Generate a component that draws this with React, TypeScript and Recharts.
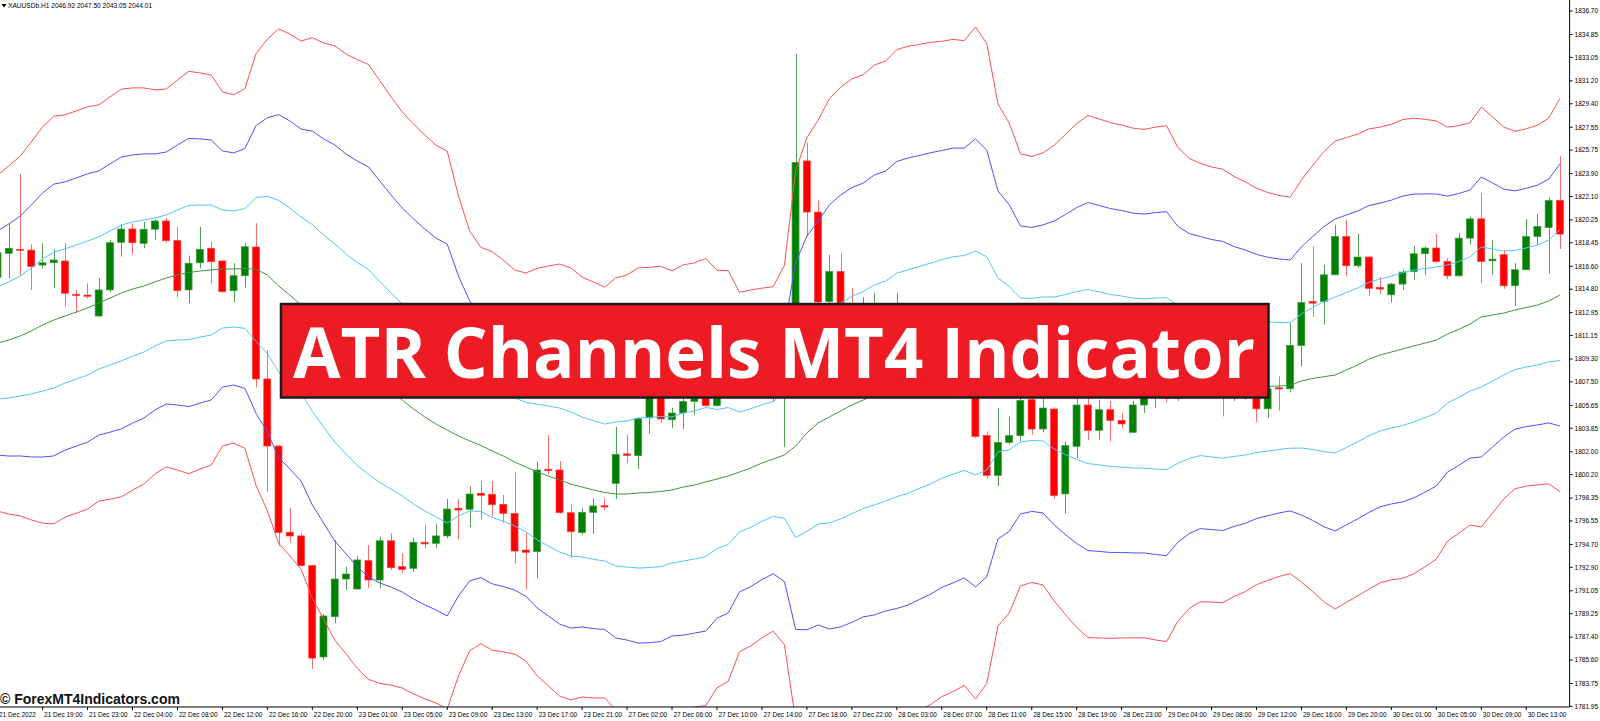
import { Bar, ComposedChart, Line, XAxis, YAxis } from "recharts";

// XAUUSDb H1, 21 Dec 15:00 .. 30 Dec 16:00 (140 bars)
const opens = [
  1815.74, 1817.62, 1817.94, 1817.88, 1816.7, 1816.88, 1817.02, 1814.4, 1814.34, 1812.69,
  1814.74, 1818.49, 1819.54, 1818.41, 1819.52, 1820.17, 1818.62, 1814.74, 1816.88, 1818.02,
  1817.02, 1814.68, 1815.86, 1818.12, 1807.73, 1802.45, 1795.66, 1795.37, 1793.03, 1785.84,
  1789.01, 1791.98, 1791.19, 1793.42, 1791.9, 1794.99, 1792.95, 1792.82, 1794.87, 1794.79,
  1795.37, 1797.55, 1797.47, 1798.73, 1798.65, 1797.86, 1797.15, 1794.26, 1794.13, 1800.62,
  1800.56, 1797.2, 1795.63, 1797.23, 1797.75, 1799.51, 1801.83, 1801.69, 1804.66, 1806.41,
  1804.52, 1805.05, 1805.96, 1806.4, 1805.63, 1806.5, 1807.3, 1807.0, 1807.6, 1808.0,
  1808.3, 1808.6, 1824.9, 1820.87, 1813.83, 1816.19, 1813.4, 1812.3, 1813.0, 1813.5,
  1812.1, 1813.2, 1811.3, 1810.1, 1810.7, 1809.4, 1809.0, 1808.8, 1803.29, 1800.14,
  1802.74, 1803.27, 1806.1, 1803.79, 1805.36, 1798.68, 1802.43, 1805.68, 1803.68, 1805.31,
  1804.47, 1803.53, 1805.68, 1806.4, 1806.8, 1806.2, 1807.0, 1806.6, 1807.2, 1806.8,
  1806.5, 1806.9, 1806.3, 1805.38, 1807.04, 1806.96, 1810.37, 1813.83, 1813.83, 1815.93,
  1818.95, 1816.64, 1817.33, 1814.94, 1814.36, 1815.2, 1816.19, 1817.59, 1818.04, 1816.98,
  1815.85, 1818.82, 1820.34, 1817.03, 1817.51, 1815.07, 1816.33, 1818.95, 1819.65, 1821.78,
];

const highs = [
  1818.0, 1819.93, 1823.87, 1818.33, 1818.41, 1817.94, 1818.41, 1814.74, 1815.26, 1815.66,
  1818.67, 1819.91, 1819.99, 1820.09, 1820.3, 1820.43, 1819.72, 1817.44, 1819.72, 1818.54,
  1817.1, 1816.84, 1818.41, 1819.99, 1810.01, 1802.5, 1797.55, 1795.58, 1793.1, 1789.22,
  1795.05, 1792.95, 1793.79, 1794.66, 1795.31, 1795.58, 1794.0, 1795.23, 1796.23, 1796.29,
  1798.28, 1798.26, 1799.3, 1799.7, 1799.7, 1798.59, 1800.35, 1795.63, 1801.21, 1803.32,
  1801.27, 1797.81, 1797.55, 1798.33, 1798.33, 1803.97, 1803.35, 1804.7, 1807.2, 1807.0,
  1805.44, 1806.5, 1806.9, 1806.8, 1807.0, 1807.6, 1808.1, 1807.9, 1808.4, 1808.8,
  1809.6, 1833.32, 1826.34, 1821.78, 1817.51, 1817.64, 1814.89, 1814.18, 1814.49, 1813.6,
  1814.49, 1813.5, 1812.0, 1811.2, 1811.4, 1810.3, 1809.8, 1810.2, 1803.6, 1805.44,
  1804.78, 1806.5, 1806.6, 1806.2, 1805.49, 1802.82, 1806.23, 1806.2, 1806.1, 1806.0,
  1805.05, 1806.0, 1806.9, 1807.3, 1807.5, 1807.4, 1807.8, 1807.6, 1807.9, 1807.3,
  1807.4, 1807.5, 1806.9, 1807.28, 1807.93, 1812.13, 1816.85, 1818.16, 1816.72, 1819.87,
  1820.26, 1819.16, 1817.38, 1815.75, 1815.28, 1816.33, 1818.22, 1818.16, 1819.14, 1817.25,
  1819.22, 1820.52, 1822.36, 1818.69, 1817.9, 1816.85, 1820.32, 1820.73, 1822.02, 1825.3,
];

const lows = [
  1815.3, 1815.66, 1815.92, 1814.74, 1816.44, 1814.87, 1813.42, 1812.9, 1814.08, 1812.6,
  1814.55, 1817.36, 1817.55, 1818.02, 1818.67, 1818.46, 1814.16, 1813.69, 1816.44, 1815.26,
  1814.52, 1813.77, 1814.92, 1807.07, 1798.85, 1794.58, 1794.84, 1792.95, 1784.9, 1785.6,
  1788.49, 1791.11, 1791.15, 1791.25, 1791.25, 1792.69, 1792.43, 1792.55, 1794.4, 1794.4,
  1795.18, 1795.1, 1796.05, 1796.68, 1796.89, 1796.41, 1793.21, 1791.17, 1792.03, 1800.22,
  1797.15, 1793.61, 1795.45, 1795.52, 1797.41, 1798.28, 1801.12, 1800.63, 1803.4, 1804.27,
  1803.87, 1803.79, 1804.92, 1805.55, 1805.55, 1806.3, 1806.9, 1806.6, 1807.2, 1805.96,
  1802.37, 1808.2, 1818.95, 1812.79, 1812.5, 1812.5, 1811.8, 1811.5, 1812.2, 1811.6,
  1811.4, 1810.9, 1809.6, 1809.2, 1808.9, 1808.4, 1808.1, 1803.08, 1799.86, 1799.28,
  1802.56, 1802.82, 1803.35, 1803.53, 1798.29, 1797.1, 1801.51, 1802.9, 1802.95, 1802.82,
  1803.87, 1803.48, 1805.05, 1805.44, 1805.88, 1806.0, 1806.4, 1806.2, 1806.3, 1804.78,
  1806.0, 1806.1, 1804.35, 1804.66, 1805.23, 1806.67, 1808.72, 1812.61, 1812.0, 1815.9,
  1815.8, 1816.46, 1814.28, 1814.42, 1813.75, 1814.75, 1815.54, 1815.93, 1816.85, 1815.62,
  1815.8, 1818.3, 1815.28, 1815.93, 1814.83, 1813.49, 1816.3, 1818.3, 1816.01, 1817.96,
];

const closes = [
  1817.67, 1818.02, 1817.86, 1816.57, 1816.88, 1817.1, 1814.48, 1814.32, 1814.24, 1814.74,
  1818.46, 1819.54, 1818.46, 1819.52, 1820.17, 1818.62, 1814.68, 1816.84, 1817.94, 1816.96,
  1814.6, 1815.86, 1818.14, 1807.73, 1802.45, 1795.63, 1795.37, 1793.03, 1785.75, 1789.07,
  1791.98, 1792.37, 1793.48, 1791.9, 1794.99, 1792.87, 1792.74, 1794.87, 1794.74, 1795.37,
  1797.49, 1797.41, 1798.67, 1798.57, 1797.83, 1797.15, 1794.18, 1794.08, 1800.56, 1800.51,
  1797.2, 1795.7, 1797.23, 1797.73, 1797.65, 1801.8, 1801.72, 1804.6, 1806.73, 1804.58,
  1805.05, 1805.96, 1806.33, 1805.63, 1806.5, 1807.3, 1807.0, 1807.6, 1808.0, 1808.3,
  1808.6, 1824.77, 1820.87, 1813.79, 1816.19, 1813.4, 1812.3, 1813.1, 1813.5, 1812.1,
  1813.2, 1811.3, 1810.1, 1810.7, 1809.4, 1809.0, 1808.8, 1803.2, 1800.14, 1802.74,
  1803.27, 1806.04, 1803.79, 1805.44, 1798.55, 1802.48, 1805.68, 1803.68, 1805.31, 1804.47,
  1804.19, 1805.68, 1806.4, 1806.8, 1806.2, 1807.0, 1806.6, 1807.2, 1806.8, 1806.5,
  1806.9, 1806.3, 1805.38, 1806.96, 1806.94, 1810.37, 1813.75, 1813.7, 1815.93, 1818.95,
  1816.64, 1817.33, 1814.86, 1814.81, 1815.2, 1816.15, 1817.59, 1818.04, 1816.98, 1815.85,
  1818.82, 1820.34, 1816.98, 1817.17, 1815.07, 1816.33, 1818.95, 1819.73, 1821.78, 1819.14,
];

// green middle line of the channel
const midLine = [
  1810.56, 1810.8, 1811.11, 1811.51, 1811.98, 1812.37, 1812.69, 1813.0, 1813.32, 1813.71,
  1814.1, 1814.5, 1814.81, 1815.05, 1815.37, 1815.68, 1815.92, 1816.11, 1816.23, 1816.31,
  1816.39, 1816.39, 1816.43, 1816.35, 1815.92, 1815.05, 1814.34, 1813.55, 1812.53, 1811.51,
  1810.56, 1809.7, 1808.91, 1808.28, 1807.49, 1806.78, 1806.07, 1805.37, 1804.74, 1804.18,
  1803.71, 1803.24, 1802.85, 1802.49, 1802.06, 1801.66, 1801.19, 1800.8, 1800.4, 1800.09,
  1799.77, 1799.46, 1799.22, 1798.99, 1798.79, 1798.67, 1798.67, 1798.75, 1798.79, 1798.87,
  1798.99, 1799.22, 1799.38, 1799.62, 1799.85, 1800.09, 1800.4, 1800.72, 1801.11, 1801.43,
  1801.74, 1802.45, 1803.48, 1804.26, 1804.74, 1805.21, 1805.68, 1806.07, 1806.47, 1806.78,
  1807.26, 1807.53, 1807.85, 1808.16, 1808.52, 1808.79, 1808.99, 1808.99, 1808.95, 1808.83,
  1808.59, 1808.44, 1808.48, 1808.52, 1808.2, 1808.08, 1808.0, 1807.92, 1807.77, 1807.61,
  1807.53, 1807.41, 1807.37, 1807.37, 1807.36, 1807.31, 1807.37, 1807.45, 1807.29, 1807.18,
  1807.14, 1807.12, 1807.14, 1807.14, 1807.18, 1807.22, 1807.57, 1807.77, 1807.91, 1808.04,
  1808.44, 1808.83, 1809.3, 1809.62, 1809.85, 1810.09, 1810.33, 1810.56, 1810.8, 1811.27,
  1811.63, 1812.06, 1812.61, 1812.77, 1812.92, 1813.16, 1813.36, 1813.55, 1813.87, 1814.34,
];

// distance between neighbouring channel lines (ATR step)
const atrStep = [
  4.41, 4.57, 4.72, 4.96, 5.2, 5.35, 5.28, 5.28, 5.28, 5.2,
  5.28, 5.35, 5.28, 5.2, 5.04, 4.96, 5.12, 5.28, 5.2, 5.12,
  4.65, 4.57, 4.72, 5.67, 6.19, 6.75, 6.85, 6.93, 7.36, 7.56,
  7.8, 7.87, 7.99, 8.07, 7.91, 7.72, 7.56, 7.48, 7.4, 7.32,
  7.32, 6.3, 5.51, 5.2, 5.23, 5.14, 5.04, 5.09, 5.35, 5.51,
  5.67, 5.67, 5.51, 5.46, 5.39, 5.67, 5.75, 5.91, 5.91, 5.91,
  5.75, 5.83, 5.83, 5.87, 5.48, 5.39, 4.72, 4.67, 4.59, 4.52,
  4.98, 7.22, 7.75, 7.95, 8.35, 8.5, 8.56, 8.54, 8.66, 8.66,
  8.8, 8.8, 8.74, 8.69, 8.6, 8.56, 8.46, 8.82, 8.4, 6.85,
  6.43, 5.67, 5.59, 5.67, 5.98, 6.3, 6.61, 6.85, 6.81, 6.77,
  6.73, 6.69, 6.67, 6.73, 6.77, 6.22, 5.91, 5.75, 5.71, 5.69,
  5.51, 5.38, 5.2, 5.09, 5.0, 4.94, 5.28, 5.59, 5.91, 6.14,
  6.1, 6.06, 6.04, 5.98, 5.98, 6.02, 5.98, 5.87, 5.75, 5.43,
  5.35, 5.28, 5.51, 5.2, 4.88, 4.69, 4.69, 4.72, 4.8, 5.16,
];

const timeLabels = [
  "21 Dec 2022", "21 Dec 19:00", "21 Dec 23:00", "22 Dec 04:00", "22 Dec 08:00",
  "22 Dec 12:00", "22 Dec 16:00", "22 Dec 20:00", "23 Dec 01:00", "23 Dec 05:00",
  "23 Dec 09:00", "23 Dec 13:00", "23 Dec 17:00", "23 Dec 21:00", "27 Dec 02:00",
  "27 Dec 06:00", "27 Dec 10:00", "27 Dec 14:00", "27 Dec 18:00", "27 Dec 22:00",
  "28 Dec 03:00", "28 Dec 07:00", "28 Dec 11:00", "28 Dec 15:00", "28 Dec 19:00",
  "28 Dec 23:00", "29 Dec 04:00", "29 Dec 08:00", "29 Dec 12:00", "29 Dec 16:00",
  "29 Dec 20:00", "30 Dec 01:00", "30 Dec 05:00", "30 Dec 09:00", "30 Dec 13:00",
];

const priceTicks = [
  1836.7, 1834.85, 1833.05, 1831.2, 1829.4, 1827.55, 1825.75, 1823.9, 1822.1, 1820.25,
  1818.45, 1816.6, 1814.8, 1812.95, 1811.15, 1809.3, 1807.5, 1805.65, 1803.85, 1802.0,
  1800.2, 1798.35, 1796.55, 1794.7, 1792.9, 1791.05, 1789.25, 1787.4, 1785.6, 1783.75,
  1781.95,
];

const SHIFT = 7.62; // first bar sits half outside the left edge
const PLOT_W = 1577.62;
const AXIS_W = 40;
const PLOT_H = 707;
const FONT = "'Liberation Sans', Arial, sans-serif";

const data = opens.map((o, i) => ({
  i,
  o,
  h: highs[i],
  l: lows[i],
  c: closes[i],
  range: [lows[i], highs[i]],
  up3: midLine[i] + 3 * atrStep[i],
  up2: midLine[i] + 2 * atrStep[i],
  up1: midLine[i] + atrStep[i],
  mid: midLine[i],
  dn1: midLine[i] - atrStep[i],
  dn2: midLine[i] - 2 * atrStep[i],
  dn3: midLine[i] - 3 * atrStep[i],
}));

function Candle(props: any) {
  const { x, y, width, height, payload } = props;
  if (x == null || !payload) return null;
  const top = Math.min(y, y + height);
  const h = Math.abs(height);
  const span = payload.h - payload.l;
  const k = span > 0 ? h / span : 0;
  const yo = top + (payload.h - payload.o) * k;
  const yc = top + (payload.h - payload.c) * k;
  const up = payload.c >= payload.o;
  const cx = Math.round(x + width / 2) + 0.5;
  const bTop = Math.min(yo, yc);
  const bH = Math.max(1.2, Math.abs(yc - yo));
  return (
    <g>
      <line x1={cx} x2={cx} y1={top} y2={top + h} stroke={up ? "#4f9f4f" : "#ff6a6a"} strokeWidth={1} />
      <rect
        x={x}
        y={bTop}
        width={width}
        height={bH}
        fill={up ? "#008000" : "#ff0000"}
        stroke={up ? "#3f993f" : "#ff3c3c"}
        strokeWidth={0.7}
      />
    </g>
  );
}

function TimeTick(props: any) {
  const { x, payload } = props;
  const label = timeLabels[Math.round(payload.value / 4)];
  if (!label) return null;
  return (
    <g>
      <line x1={x} x2={x} y1={PLOT_H} y2={PLOT_H + 3} stroke="#000" />
      <text x={x + 1.5} y={PLOT_H + 10} fontSize={6.5} fontFamily={FONT} fill="#000" textAnchor="start">
        {label}
      </text>
    </g>
  );
}

function PriceTick(props: any) {
  const { y, payload } = props;
  return (
    <g>
      <line x1={PLOT_W} x2={PLOT_W + 3} y1={y} y2={y} stroke="#000" />
      <text x={PLOT_W + 5} y={y + 2.3} fontSize={6.5} fontFamily={FONT} fill="#000" textAnchor="start">
        {payload.value.toFixed(2)}
      </text>
    </g>
  );
}

const lineProps = {
  type: "linear" as const,
  dot: false,
  activeDot: false,
  isAnimationActive: false,
  strokeWidth: 1,
};

export default function App() {
  return (
    <div
      style={{
        position: "absolute",
        left: 0,
        top: 0,
        width: 1600,
        height: 721,
        overflow: "hidden",
        background: "#fff",
      }}
    >
      <div style={{ position: "absolute", left: -SHIFT, top: 0 }}>
        <ComposedChart
          width={PLOT_W + AXIS_W}
          height={721}
          data={data}
          margin={{ top: 0, right: 0, bottom: 0, left: 0 }}
        >
          <XAxis
            dataKey="i"
            type="category"
            interval={3}
            height={721 - PLOT_H}
            padding={{ left: 0, right: 4 }}
            tickLine={false}
            axisLine={{ stroke: "#000" }}
            tick={<TimeTick />}
          />
          <YAxis
            orientation="right"
            width={AXIS_W}
            domain={[1781.9, 1837.57]}
            ticks={priceTicks}
            interval={0}
            allowDataOverflow
            tickLine={false}
            axisLine={{ stroke: "#000" }}
            tick={<PriceTick />}
          />
          <Bar dataKey="range" barSize={7} shape={<Candle />} isAnimationActive={false} />
          <Line dataKey="up3" stroke="#ff4f4f" {...lineProps} />
          <Line dataKey="up2" stroke="#4f4fff" {...lineProps} />
          <Line dataKey="up1" stroke="#4cc6ff" {...lineProps} />
          <Line dataKey="mid" stroke="#3d973d" {...lineProps} />
          <Line dataKey="dn1" stroke="#4cc6ff" {...lineProps} />
          <Line dataKey="dn2" stroke="#4f4fff" {...lineProps} />
          <Line dataKey="dn3" stroke="#ff4f4f" {...lineProps} />
        </ComposedChart>
      </div>
      <svg
        width={1600}
        height={721}
        style={{ position: "absolute", left: 0, top: 0, pointerEvents: "none" }}
      >
        <path d="M1.5 4 L6.5 4 L4 7.5 Z" fill="#000" />
        <text x={8} y={8.3} fontSize={6.6} fontFamily={FONT} fill="#000">
          XAUUSDb.H1  2046.92 2047.50 2043.05 2044.01
        </text>
        <rect x={281} y={304} width={987.5} height={93.5} fill="#ed1c24" stroke="#1c1c1c" strokeWidth={2.5} />
        <text
          x={293}
          y={378}
          fontSize={70}
          fontWeight={700}
          fontFamily="'Open Sans', 'DejaVu Sans', sans-serif"
          fill="#fff"
          textLength={962}
          lengthAdjust="spacingAndGlyphs"
        >
          ATR Channels MT4 Indicator
        </text>
        <text x={0} y={704} fontSize={14} fontWeight={700} fontFamily={FONT} fill="#111">
          © ForexMT4Indicators.com
        </text>
      </svg>
    </div>
  );
}
